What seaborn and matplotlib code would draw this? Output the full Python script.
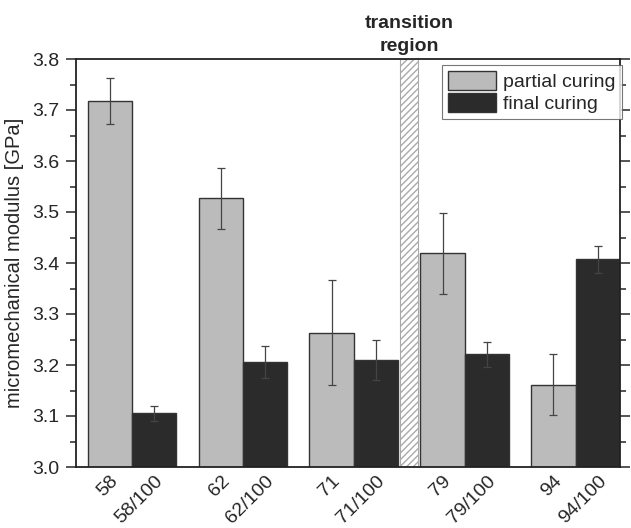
import matplotlib
matplotlib.use("Agg")
import matplotlib.pyplot as plt
import seaborn as sns
import pandas as pd
import numpy as np

groups = ["58", "62", "71", "79", "94"]
partial_vals = [3.718, 3.527, 3.263, 3.419, 3.161]
partial_err = [0.045, 0.060, 0.103, 0.080, 0.060]
final_vals = [3.105, 3.206, 3.210, 3.221, 3.407]
final_err = [0.015, 0.032, 0.039, 0.025, 0.026]
series = ["partial curing", "final curing"]
tick_labels = ["58", "58/100", "62", "62/100", "71", "71/100", "79", "79/100", "94", "94/100"]

df = pd.DataFrame({
    "group": groups * 2,
    "value": partial_vals + final_vals,
    "curing": [series[0]] * len(groups) + [series[1]] * len(groups),
})

sns.set_style("ticks")
plt.rcParams["font.family"] = ["Liberation Sans", "DejaVu Sans"]

fig = plt.figure(figsize=(6.31, 5.28), dpi=100)
ax = fig.add_axes([76 / 631, 1 - 467 / 528, (620 - 76) / 631, (467 - 59) / 528])

palette = {series[0]: "#bbbbbb", series[1]: "#2b2b2b"}
sns.barplot(data=df, x="group", y="value", hue="curing", order=groups,
            hue_order=series, palette=palette, width=0.8, saturation=1,
            edgecolor="#333333", linewidth=1.0, errorbar=None, ax=ax)

# error bars at bar centres
errs = {series[0]: partial_err, series[1]: final_err}
vals = {series[0]: partial_vals, series[1]: final_vals}
for cont, s in zip(ax.containers, series):
    xs = [p.get_x() + p.get_width() / 2 for p in cont.patches]
    ax.errorbar(xs, vals[s], yerr=errs[s], fmt="none", ecolor="#444444",
                elinewidth=0.9, capsize=3, capthick=0.9, zorder=5)

# transition region
ax.axvspan(2.42, 2.58, facecolor="white", edgecolor="#aaaaaa", hatch="/////",
           linewidth=0.8, zorder=1)
ax.text(2.5, 3.808, "transition\nregion", ha="center", va="bottom",
        fontweight="bold", fontsize=14, linespacing=1.45)

ax.set_ylim(3.0, 3.8)
ax.set_xlim(-0.505, 4.4)
ax.set_yticks(np.arange(3.0, 3.81, 0.1))
ax.set_yticks(np.arange(3.05, 3.8, 0.1), minor=True)
ax.set_yticklabels([f"{v:.1f}" for v in np.arange(3.0, 3.81, 0.1)])
xt = []
for i in range(len(groups)):
    xt += [i - 0.2, i + 0.2]
ax.set_xticks(xt)
ax.set_xticklabels(tick_labels, rotation=45, ha="right", rotation_mode="anchor")
ax.tick_params(axis="x", length=0, labelsize=14, pad=4)
ax.tick_params(axis="y", which="major", length=7, width=1.1, labelsize=14,
               right=True, direction="out", pad=5)
ax.tick_params(axis="y", which="minor", length=4, width=1.1, right=True, direction="out")
for sp in ax.spines.values():
    sp.set_visible(True)
    sp.set_linewidth(1.3)
    sp.set_color("#222222")
ax.set_xlabel("")
ax.set_ylabel("micromechanical modulus [GPa]", fontsize=14.5, labelpad=6)

leg = ax.legend(loc="upper right", bbox_to_anchor=(1.01, 0.995), frameon=True,
                fancybox=False, edgecolor="#555555", fontsize=14,
                handlelength=2.5, handleheight=1.15, handletextpad=0.35,
                borderpad=0.3, labelspacing=0.1, borderaxespad=0.2)
leg.get_frame().set_linewidth(0.8)

fig.savefig("out.png", dpi=100)
